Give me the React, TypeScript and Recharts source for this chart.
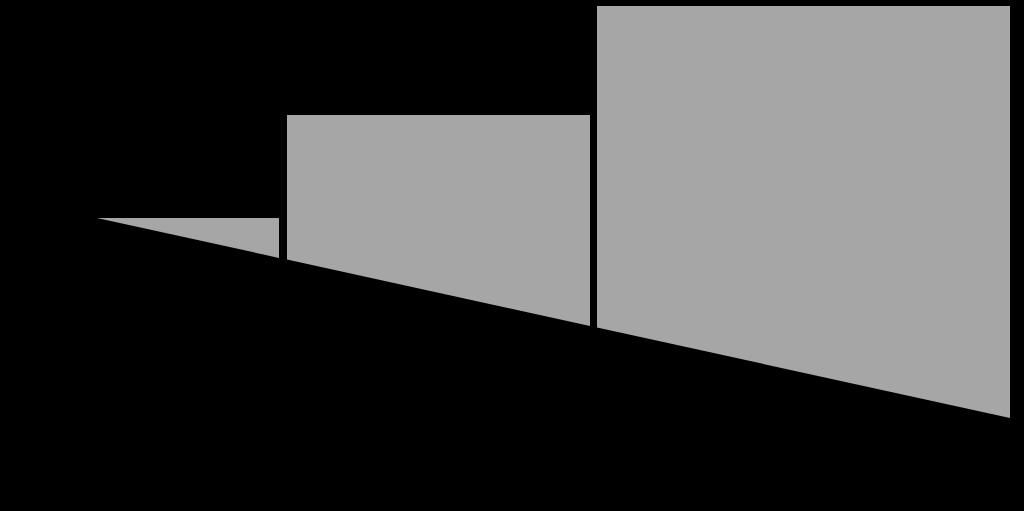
import { ComposedChart, Area, XAxis, YAxis } from "recharts";

// horizontal positions of each block's left and right edge
const blockStart = [97, 287, 597];
const blockEnd = [279, 590, 1010];
// height of each block's flat top
const blockTop = [293, 396, 505];
// sloped floor: value at each block's left and right edge
const floorStart = [293, 251.4, 183.5];
const floorEnd = [253.1, 185, 93];

const keys = ["a", "b", "c"];

const data = keys.flatMap((k, i) => [
  { x: blockStart[i], [k]: [floorStart[i], blockTop[i]] },
  { x: blockEnd[i], [k]: [floorEnd[i], blockTop[i]] },
]);

export default function App() {
  return (
    <div
      style={{
        position: "fixed",
        top: 0,
        left: 0,
        width: 1024,
        height: 511,
        background: "#000",
      }}
    >
      <ComposedChart width={1024} height={511} data={data} margin={{ top: 0, right: 0, left: 0, bottom: 0 }}>
        <XAxis dataKey="x" type="number" domain={[0, 1024]} hide />
        <YAxis type="number" domain={[0, 511]} hide />
        {keys.map((k) => (
          <Area
            key={k}
            type="linear"
            dataKey={k}
            stroke="none"
            fill="#a6a6a6"
            fillOpacity={1}
            isAnimationActive={false}
            dot={false}
            activeDot={false}
          />
        ))}
      </ComposedChart>
    </div>
  );
}
